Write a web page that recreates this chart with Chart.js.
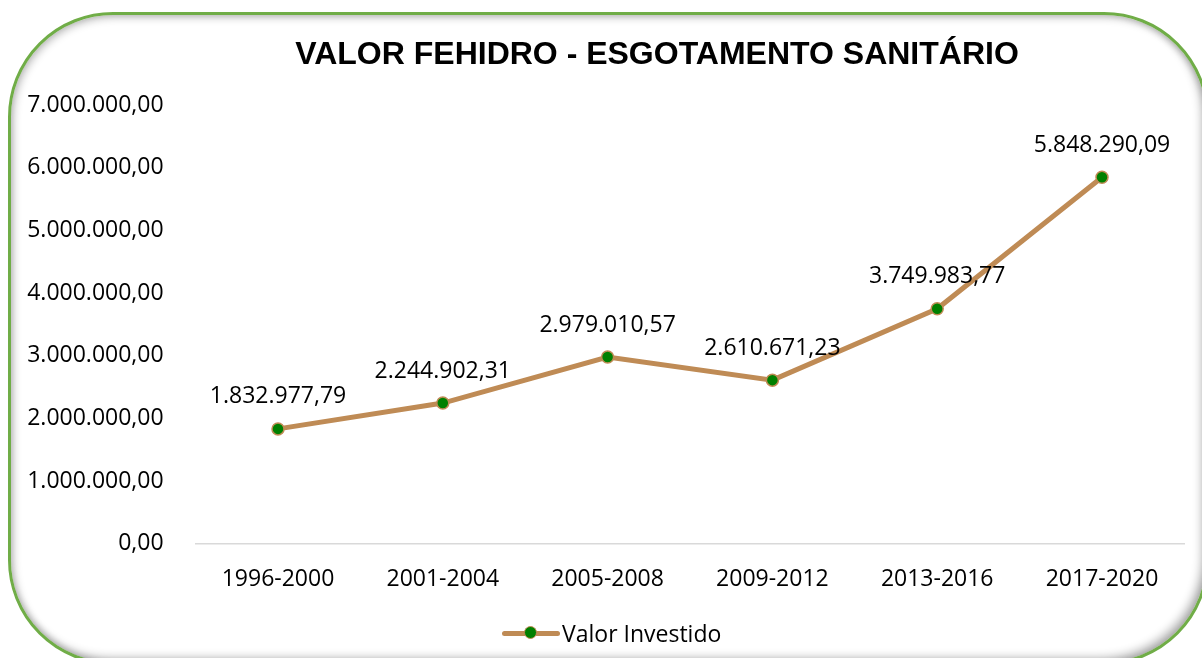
<!DOCTYPE html>
<html>
<head>
<meta charset="utf-8">
<script src="https://cdn.jsdelivr.net/npm/chart.js@4.4.1/dist/chart.umd.min.js"></script>
<style>
  html, body { margin: 0; padding: 0; background: #fff; }
  #wrap { position: relative; width: 1202px; height: 658px; overflow: hidden; }
  #frame {
    position: absolute; left: 8px; top: 12px; width: 1201px; height: 653px;
    box-sizing: border-box; border: 3px solid #70ad47; border-radius: 105px;
    box-shadow: inset 2px 2px 8px rgba(0,0,0,0.28), inset -4px -4px 10px rgba(0,0,0,0.3);
  }
  #title {
    position: absolute; left: 657px; top: 53px; transform: translate(-50%, -50%);
    font: bold 32px "Liberation Sans", Arial, sans-serif; color: #000; white-space: nowrap;
  }
  #legend {
    position: absolute; left: 502px; top: 618px; height: 30px;
    display: flex; align-items: center;
    font: 23px "Open Sans", sans-serif; color: #000; white-space: nowrap;
  }
  #legend .sym { position: relative; width: 58px; height: 30px; margin-right: 2px; }
  #legend .sym .ln { position: absolute; left: 0; right: 0; top: 12.5px; height: 5px; background: #bf8b55; border-radius: 3px; }
  #legend .sym .dot { position: absolute; left: 22px; top: 8px; width: 11px; height: 11px; border-radius: 50%; background: #008000; border: 1.5px solid #bf8b55; }
  canvas { position: absolute; left: 0; top: 0; }
</style>
</head>
<body>
<div id="wrap">
  <canvas id="chart" width="1202" height="658"></canvas>
  <div id="frame"></div>
  <div id="title">VALOR FEHIDRO - ESGOTAMENTO SANITÁRIO</div>
  <div id="legend"><div class="sym"><div class="ln"></div><div class="dot"></div></div><span>Valor Investido</span></div>
</div>
<script>
// periods and invested amounts (R$)
const periods = ['1996-2000', '2001-2004', '2005-2008', '2009-2012', '2013-2016', '2017-2020'];
const invested = [1832977.79, 2244902.31, 2979010.57, 2610671.23, 3749983.77, 5848290.09];
const yMax = 7000000;
const yStep = 1000000;

const fmt = v => v.toLocaleString('pt-BR', { minimumFractionDigits: 2, maximumFractionDigits: 2 });
const FONT = { family: '"Open Sans", sans-serif', size: 23 };

// value labels above each point
const pointLabels = {
  id: 'pointLabels',
  afterDatasetsDraw(chart) {
    const ctx = chart.ctx;
    const meta = chart.getDatasetMeta(0);
    ctx.save();
    ctx.font = FONT.size + 'px ' + FONT.family;
    ctx.fillStyle = '#000';
    ctx.textAlign = 'center';
    ctx.textBaseline = 'middle';
    meta.data.forEach((pt, i) => {
      ctx.fillText(fmt(invested[i]), pt.x, pt.y - 32);
    });
    ctx.restore();
  }
};

new Chart(document.getElementById('chart'), {
  type: 'line',
  data: {
    labels: periods,
    datasets: [{
      label: 'Valor Investido',
      data: invested,
      borderColor: '#bf8b55',
      borderWidth: 5,
      pointBackgroundColor: '#008000',
      pointBorderColor: '#bf8b55',
      pointBorderWidth: 1.5,
      pointRadius: 6,
      tension: 0
    }]
  },
  options: {
    responsive: false,
    animation: false,
    layout: { padding: { top: 105, right: 17.6, bottom: 50.6, left: 0 } },
    plugins: { legend: { display: false }, title: { display: false }, tooltip: { enabled: false } },
    scales: {
      x: {
        offset: true,
        grid: { display: false, offset: true },
        border: { display: true, color: '#d9d9d9', width: 1.5 },
        ticks: { color: '#000', font: FONT, padding: 14, maxRotation: 0 }
      },
      y: {
        min: 0, max: yMax,
        grid: { display: false },
        border: { display: false },
        ticks: { stepSize: yStep, color: '#000', font: FONT, padding: 24, callback: v => fmt(v) },
        afterFit(scale) { scale.width = 195.6; }
      }
    }
  },
  plugins: [pointLabels]
});
</script>
</body>
</html>
